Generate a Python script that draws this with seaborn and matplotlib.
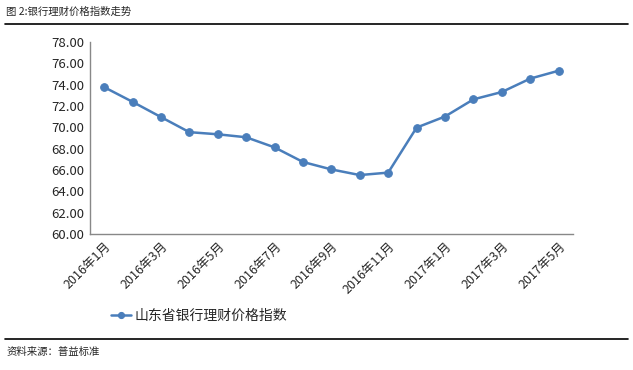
import matplotlib.pyplot as plt
import matplotlib.lines as mlines
import seaborn as sns
import pandas as pd

months = ["2016年1月", "2016年2月", "2016年3月", "2016年4月", "2016年5月", "2016年6月",
          "2016年7月", "2016年8月", "2016年9月", "2016年10月", "2016年11月", "2016年12月",
          "2017年1月", "2017年2月", "2017年3月", "2017年4月", "2017年5月"]
index_values = [73.78, 72.40, 70.97, 69.55, 69.35, 69.07, 68.12, 66.75, 66.05, 65.52, 65.75,
                69.98, 71.02, 72.63, 73.32, 74.58, 75.32]
series_name = "山东省银行理财价格指数"

df = pd.DataFrame({"month": months, series_name: index_values})

sns.set_style("white")
plt.rcParams['font.family'] = ['Noto Sans CJK SC', 'DejaVu Sans']

fig = plt.figure(figsize=(6.33, 3.70), dpi=100)
ax = fig.add_axes([0.142, 0.368, 0.763, 0.518])

blue = "#4A7EBB"
sns.lineplot(data=df, x="month", y=series_name, sort=False, ax=ax, color=blue,
             marker="o", markersize=5.5, markeredgecolor=blue, linewidth=1.8,
             label=series_name, legend=False)

ax.set_ylim(60, 78)
ax.set_yticks(range(60, 79, 2))
ax.set_yticklabels([f"{v:.2f}" for v in range(60, 79, 2)], fontsize=9.5)
ax.set_xlim(-0.5, len(months) - 0.5)
ax.set_xticks(range(0, len(months), 2))
ax.set_xticklabels(months[::2], rotation=45, ha="right", rotation_mode="anchor", fontsize=9)
ax.tick_params(axis="both", length=0, pad=4)
ax.set_xlabel("")
ax.set_ylabel("")

for side in ["top", "right"]:
    ax.spines[side].set_visible(False)
for side in ["left", "bottom"]:
    ax.spines[side].set_color("#888888")
    ax.spines[side].set_linewidth(1)

# legend below the axis
h, l = ax.get_legend_handles_labels()
fig.legend(h, l, loc="center left", bbox_to_anchor=(0.155, 0.147), frameon=False,
           fontsize=10, handlelength=1.5, handletextpad=0.2, markerscale=0.8)

# header and footer
fig.text(0.01, 0.968, "图 2:银行理财价格指数走势", fontsize=7.5, va="center", ha="left")
fig.add_artist(mlines.Line2D([0.008, 0.992], [0.935, 0.935], color="black", linewidth=1.2))
fig.add_artist(mlines.Line2D([0.008, 0.992], [0.085, 0.085], color="black", linewidth=1.2))
fig.text(0.01, 0.048, "资料来源：普益标准", fontsize=7.5, va="center", ha="left")

fig.savefig("out.png", dpi=100)
